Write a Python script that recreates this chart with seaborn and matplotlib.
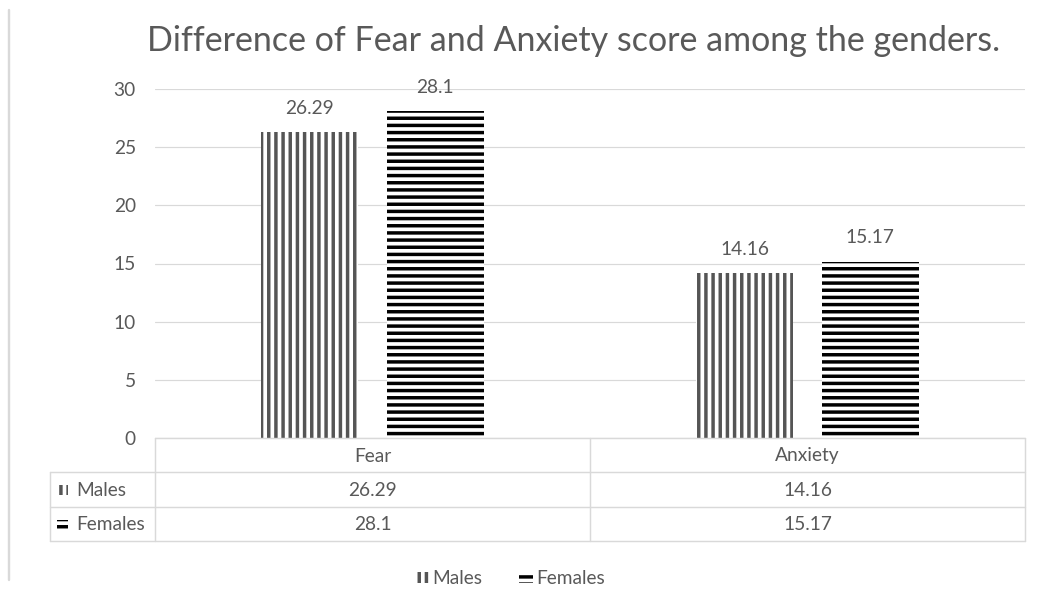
import matplotlib
matplotlib.use('Agg')
import matplotlib.pyplot as plt
import matplotlib.transforms as mtransforms
import seaborn as sns
import pandas as pd
from matplotlib.patches import Rectangle, Patch
from matplotlib.lines import Line2D

# ---- data ----
categories = ['Fear', 'Anxiety']
genders = ['Males', 'Females']
males = [26.29, 14.16]
females = [28.1, 15.17]
male_labels = ['26.29', '14.16']
female_labels = ['28.1', '15.17']
yticks = [0, 5, 10, 15, 20, 25, 30]
title = 'Difference of Fear and Anxiety score among the genders.'

# ---- style ----
sns.set_theme(style='white')
plt.rcParams['font.family'] = ['Lato', 'DejaVu Sans']
plt.rcParams['hatch.linewidth'] = 2.9
TXT = '#595959'
GRID = '#d9d9d9'
FS = 16
hatches = ['||', '--']
hatch_colors = ['#555555', '#000000']

W, H, DPI = 1037, 591, 86
fig = plt.figure(figsize=(W / DPI, H / DPI), dpi=DPI)
fig.patch.set_facecolor('white')


def fx(x):
    return x / W


def fy(y):
    return 1 - y / H


ax = fig.add_axes([fx(155), fy(438), fx(1025) - fx(155), fy(89) - fy(438)])

df = pd.DataFrame({
    'category': categories * 2,
    'gender': [genders[0]] * len(categories) + [genders[1]] * len(categories),
    'score': males + females,
})
sns.barplot(data=df, x='category', y='score', hue='gender', order=categories,
            hue_order=genders, palette=['white', 'white'], saturation=1,
            width=0.575, gap=0.224, legend=False, errorbar=None, ax=ax)

for cont, h, hc, labs in zip(ax.containers, hatches, hatch_colors, [male_labels, female_labels]):
    for bar in cont:
        bar.set_facecolor('white')
        bar.set_edgecolor(hc)
        bar.set_linewidth(0)
        bar.set_hatch(h)
    ax.bar_label(cont, labels=labs, padding=13, fontsize=FS, color=TXT)

ax.set_xlim(-0.5, len(categories) - 0.5)
ax.set_ylim(0, 30)
ax.set_yticks(yticks)
ax.set_yticklabels([str(t) for t in yticks], color=TXT, fontsize=FS)
ax.set_xticks([])
ax.set_xlabel('')
ax.set_ylabel('')
ax.yaxis.grid(True, color=GRID, linewidth=1)
ax.set_axisbelow(True)
for s in ax.spines.values():
    s.set_visible(False)
ax.tick_params(axis='y', length=0, pad=16)

fig.text(fx(574), fy(41), title, ha='center', va='center', fontsize=28.5, color=TXT)

# ---- data table below the axis ----
bt = mtransforms.blended_transform_factory(ax.transData, fig.transFigure)
x0, x1 = -0.5, len(categories) - 0.5
rows_y = [438, 472, 507, 541]
lw = 1.2
fig.add_artist(Line2D([x0, x1], [fy(438), fy(438)], color=GRID, lw=lw, transform=bt))
for yy in rows_y[1:]:
    fig.add_artist(Line2D([fx(50), fx(1025)], [fy(yy), fy(yy)], color=GRID, lw=lw, transform=fig.transFigure))
for i in range(len(categories) + 1):
    xv = x0 + i
    fig.add_artist(Line2D([xv, xv], [fy(438), fy(541)], color=GRID, lw=lw, transform=bt))
fig.add_artist(Line2D([fx(50), fx(50)], [fy(472), fy(541)], color=GRID, lw=lw, transform=fig.transFigure))

for i, c in enumerate(categories):
    fig.text(i, fy(456), c, transform=bt, ha='center', va='center', fontsize=FS, color=TXT)
    fig.text(i, fy(490), male_labels[i], transform=bt, ha='center', va='center', fontsize=FS, color=TXT)
    fig.text(i, fy(525), female_labels[i], transform=bt, ha='center', va='center', fontsize=FS, color=TXT)

row_centers = [490, 525]
for g, h, hc, yc in zip(genders, hatches, hatch_colors, row_centers):
    key = Rectangle((fx(57), fy(yc + 5)), fx(11), 10 / H, transform=fig.transFigure,
                    facecolor='white', edgecolor=hc, linewidth=0, hatch=h)
    fig.add_artist(key)
    fig.text(fx(76), fy(yc), g, ha='left', va='center', fontsize=FS, color=TXT)

# ---- legend ----
handles = [Patch(facecolor='white', edgecolor=hc, linewidth=0, hatch=h)
           for h, hc in zip(hatches, hatch_colors)]
fpx = FS * DPI / 72
fig.legend(handles, genders, loc='center', bbox_to_anchor=(fx(510), fy(579)), ncol=2,
           frameon=False, fontsize=FS, labelcolor=TXT,
           handlelength=14 / fpx, handleheight=10 / fpx, handletextpad=3 / fpx,
           columnspacing=37 / fpx, borderpad=0)

# left border line
fig.add_artist(Line2D([fx(9), fx(9)], [fy(10), fy(580)], color=GRID, lw=2, transform=fig.transFigure))

fig.savefig('out.png', dpi=DPI, facecolor='white')
